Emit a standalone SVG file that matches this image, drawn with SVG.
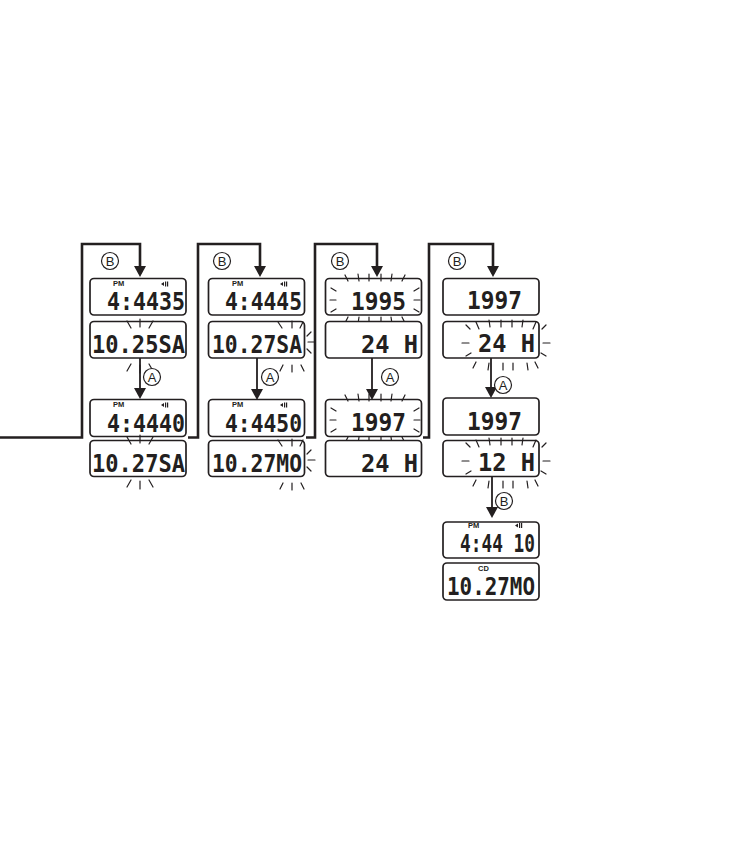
<svg xmlns="http://www.w3.org/2000/svg" xmlns:xlink="http://www.w3.org/1999/xlink" width="756" height="849" viewBox="0 0 756 849">
<style>
.box{fill:#fff;stroke:#231f20;stroke-width:1.7}
.lcd{font-family:"DejaVu Sans Mono","Liberation Mono",monospace;font-weight:bold;font-size:24px;fill:#231f20}
.sm{font-family:"Liberation Sans",Arial,sans-serif;font-weight:bold;font-size:7.5px;fill:#231f20}
.conn{fill:none;stroke:#231f20;stroke-width:2.6}
.thin{fill:none;stroke:#231f20;stroke-width:1.8}
.ray{fill:none;stroke:#231f20;stroke-width:1.2;stroke-linecap:round}
.lbl circle{fill:#fff;stroke:#231f20;stroke-width:1.2}
.lbl text{font-family:"Liberation Sans",Arial,sans-serif;font-size:13px;text-anchor:middle;fill:#231f20}
</style>
<defs>
<marker id="ah" markerUnits="userSpaceOnUse" markerWidth="11" markerHeight="12" viewBox="0 0 11 12" refX="8" refY="6" orient="auto">
<path d="M0,0 L11,6 L0,12 z" fill="#231f20"/>
</marker>
<g id="spk" fill="#231f20"><polygon points="0,2.5 3,0.5 3,4.5"/><rect x="4" y="0" width="1.2" height="5"/><rect x="6" y="0" width="1.2" height="5"/></g>
<path id="r1" class="ray" d="M-13,-25 L-9,-18 M0,-27 L0,-19 M13,-25 L9,-18 M-9,18 L-13,25 M0,19 L0,27 M9,18 L13,25"/>
<path id="r2" class="ray" d="M-14,-21 L-10,-15 M0,-22 L0,-15 M11,-21 L8,-15 M15,-7 L19,-11 M16,-1 L23,-1 M15,6 L19,10 M-9,22 L-12,28 M0,22 L0,29 M9,22 L12,28"/>
<path id="r3" class="ray" d="M-30,-25 L-27,-19 M-17,-26 L-16,-19 M-6,-26 L-6,-19 M6,-26 L6,-19 M17,-26 L16,-19 M30,-25 L27,-19 M-44,-12 L-39,-9 M-45,0 L-39,0 M-44,12 L-39,9 M44,-12 L39,-9 M45,0 L39,0 M44,12 L39,9 M-30,23 L-27,17 M-17,24 L-16,17 M-6,24 L-6,17 M6,24 L6,17 M17,24 L16,17 M30,23 L27,17"/>
<path id="r4" class="ray" d="M-30,-23 L-27,-16 M-17,-25 L-16,-18 M-5,-25 L-5,-18 M6,-25 L6,-18 M17,-25 L16,-18 M30,-23 L27,-16 M-40,-20 L-36,-16 M-44,-2 L-37,-2 M-40,11 L-35,8 M40,-20 L36,-16 M44,-2 L37,-2 M40,11 L35,8 M-30,17 L-33,23 M-17,18 L-18,25 M-3,18 L-3,25 M7,18 L7,25 M21,18 L22,25 M29,17 L32,23"/>
</defs>

<g id="connectors">
<path class="conn" marker-end="url(#ah)" d="M0,437.5 H82 V244 H140 V274"/>
<path class="conn" marker-end="url(#ah)" d="M188,437.5 H198 V244 H260 V274"/>
<path class="conn" marker-end="url(#ah)" d="M306,437.5 H315 V244 H377 V274"/>
<path class="conn" marker-end="url(#ah)" d="M423,437.5 H429 V244 H493 V274"/>
<path class="thin" marker-end="url(#ah)" d="M140,358 V396"/>
<path class="thin" marker-end="url(#ah)" d="M257,358 V397"/>
<path class="thin" marker-end="url(#ah)" d="M372,358 V397"/>
<path class="thin" marker-end="url(#ah)" d="M491,358 V395"/>
<path class="thin" marker-end="url(#ah)" d="M492,477 V515"/>
</g>

<g id="c1-b1"><rect class="box" x="90" y="278.5" width="96" height="36.5" rx="4"/><text class="sm" x="113" y="286">PM</text><use href="#spk" x="161" y="281.5"/><text class="lcd" x="107" y="310" textLength="78" lengthAdjust="spacingAndGlyphs">4:4435</text></g>
<g id="c1-b2"><rect class="box" x="90" y="321.5" width="96" height="36.5" rx="4"/><text class="lcd" x="92" y="353" textLength="93" lengthAdjust="spacingAndGlyphs">10.25SA</text><use href="#r1" x="140" y="346"/></g>
<g id="c1-b3"><rect class="box" x="90" y="399.5" width="96" height="37" rx="4"/><text class="sm" x="113" y="407">PM</text><use href="#spk" x="161" y="402.5"/><text class="lcd" x="107" y="432" textLength="78" lengthAdjust="spacingAndGlyphs">4:4440</text></g>
<g id="c1-b4"><rect class="box" x="90" y="440.5" width="96" height="36" rx="4"/><text class="lcd" x="92" y="472" textLength="93" lengthAdjust="spacingAndGlyphs">10.27SA</text><use href="#r1" x="140" y="462"/></g>

<g id="c2-b1"><rect class="box" x="208.5" y="278.5" width="96" height="36.5" rx="4"/><text class="sm" x="232" y="286">PM</text><use href="#spk" x="280" y="281.5"/><text class="lcd" x="225" y="310" textLength="77" lengthAdjust="spacingAndGlyphs">4:4445</text></g>
<g id="c2-b2"><rect class="box" x="208.5" y="321.5" width="96" height="36.5" rx="4"/><text class="lcd" x="212" y="353" textLength="90" lengthAdjust="spacingAndGlyphs">10.27SA</text><use href="#r2" x="292" y="343"/></g>
<g id="c2-b3"><rect class="box" x="208.5" y="399.5" width="96" height="37" rx="4"/><text class="sm" x="232" y="407">PM</text><use href="#spk" x="280" y="402.5"/><text class="lcd" x="225" y="432" textLength="77" lengthAdjust="spacingAndGlyphs">4:4450</text></g>
<g id="c2-b4"><rect class="box" x="208.5" y="440.5" width="96" height="36" rx="4"/><text class="lcd" x="212" y="472" textLength="90" lengthAdjust="spacingAndGlyphs">10.27MO</text><use href="#r2" x="292" y="461"/></g>

<g id="c3-b1"><rect class="box" x="325.5" y="278.5" width="96" height="36.5" rx="4"/><text class="lcd" x="351" y="310" textLength="55" lengthAdjust="spacingAndGlyphs">1995</text><use href="#r3" x="375" y="300"/></g>
<g id="c3-b2"><rect class="box" x="325.5" y="321.5" width="96" height="36.5" rx="4"/><text class="lcd" x="361" y="353" textLength="57" lengthAdjust="spacingAndGlyphs">24 H</text></g>
<g id="c3-b3"><rect class="box" x="325.5" y="399.5" width="96" height="37" rx="4"/><text class="lcd" x="351" y="431" textLength="55" lengthAdjust="spacingAndGlyphs">1997</text><use href="#r3" x="375" y="420"/></g>
<g id="c3-b4"><rect class="box" x="325.5" y="440.5" width="96" height="36" rx="4"/><text class="lcd" x="361" y="472" textLength="57" lengthAdjust="spacingAndGlyphs">24 H</text></g>

<g id="c4-b1"><rect class="box" x="443" y="278.5" width="96" height="36.5" rx="4"/><text class="lcd" x="467" y="309" textLength="55" lengthAdjust="spacingAndGlyphs">1997</text></g>
<g id="c4-b2"><rect class="box" x="443" y="321.5" width="96" height="36.5" rx="4"/><text class="lcd" x="478" y="352" textLength="57" lengthAdjust="spacingAndGlyphs">24 H</text><use href="#r4" x="506" y="345"/></g>
<g id="c4-b3"><rect class="box" x="443" y="398" width="96" height="37" rx="4"/><text class="lcd" x="467" y="430" textLength="55" lengthAdjust="spacingAndGlyphs">1997</text></g>
<g id="c4-b4"><rect class="box" x="443" y="440.5" width="96" height="36" rx="4"/><text class="lcd" x="478" y="471" textLength="57" lengthAdjust="spacingAndGlyphs">12 H</text><use href="#r4" x="506" y="463"/></g>
<g id="c4-b5"><rect class="box" x="443" y="522" width="96" height="36" rx="4"/><text class="sm" x="468" y="527.5">PM</text><use href="#spk" x="515" y="523"/><text class="lcd" x="460" y="552" textLength="75" lengthAdjust="spacingAndGlyphs">4:44 10</text></g>
<g id="c4-b6"><rect class="box" x="443" y="563" width="96" height="37" rx="4"/><text class="sm" x="478" y="571">CD</text><text class="lcd" x="447" y="595" textLength="88" lengthAdjust="spacingAndGlyphs">10.27MO</text></g>

<g id="labels" class="lbl">
<g><circle cx="110" cy="261" r="8.5"/><text x="110" y="265.5">B</text></g>
<g><circle cx="222" cy="261" r="8.5"/><text x="222" y="265.5">B</text></g>
<g><circle cx="340" cy="261" r="8.5"/><text x="340" y="265.5">B</text></g>
<g><circle cx="457" cy="261" r="8.5"/><text x="457" y="265.5">B</text></g>
<g><circle cx="152" cy="377" r="8.5"/><text x="152" y="381.5">A</text></g>
<g><circle cx="270" cy="377" r="8.5"/><text x="270" y="381.5">A</text></g>
<g><circle cx="390" cy="377" r="8.5"/><text x="390" y="381.5">A</text></g>
<g><circle cx="503" cy="385" r="8.5"/><text x="503" y="389.5">A</text></g>
<g><circle cx="504" cy="501" r="8.5"/><text x="504" y="505.5">B</text></g>
</g>
</svg>
